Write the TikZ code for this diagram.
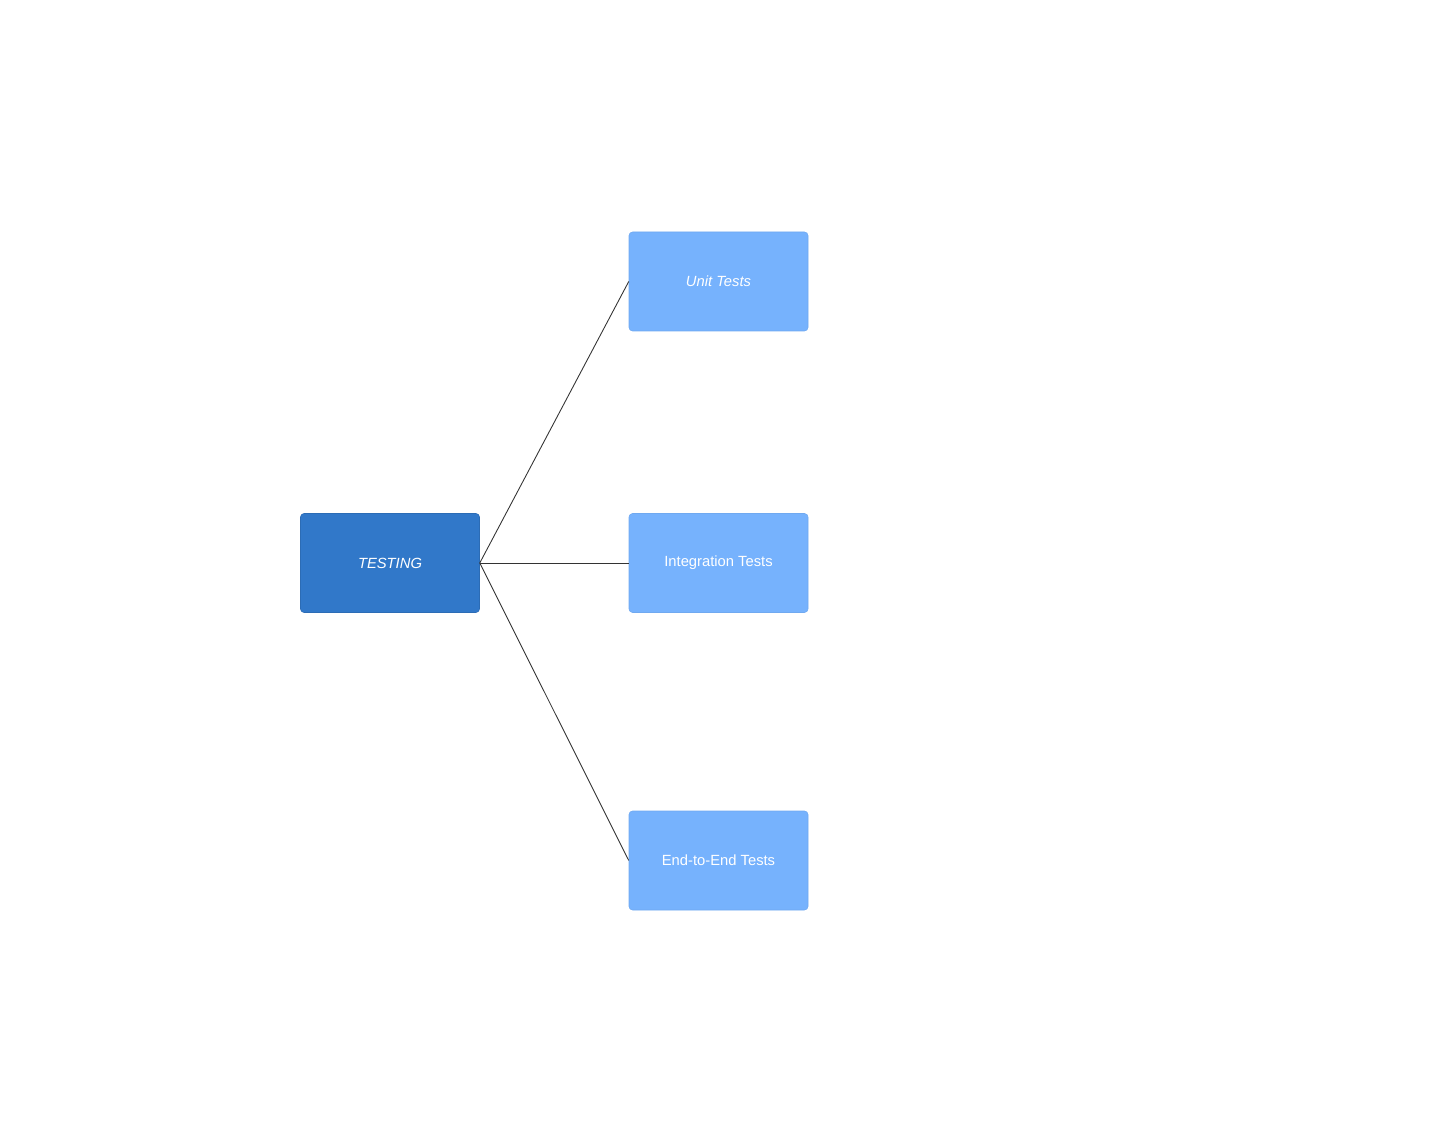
\documentclass[tikz,border=0pt]{standalone}
\usepackage{fontspec}
\setmainfont{Liberation Sans}
\definecolor{rootblue}{HTML}{3178C9}
\definecolor{leafblue}{HTML}{76B2FD}
\tikzset{
	box/.style={minimum width=3.58cm, minimum height=1.98cm, rounded corners=2pt, text=white, font=\fontsize{8.4}{10}\selectfont, inner sep=0pt},
	rootbox/.style={box, fill=rootblue, draw=rootblue!90!black, line width=0.3pt},
	leafbox/.style={box, fill=leafblue, draw=leafblue!95!black, line width=0.3pt},
	link/.style={draw=black!80, line width=0.5pt}
}
\begin{document}
			\begin{tikzpicture}
				\useasboundingbox (0,0) rectangle (29.12,-22.5);
				\coordinate (R) at (7.8,-11.26);
				\coordinate (U) at (14.37,-5.63);
				\coordinate (G) at (14.37,-11.26);
				\coordinate (E) at (14.37,-17.21);
				\node[rootbox] (testing) at (R) {\raisebox{-0.6pt}{\itshape TESTING}};
				\node[leafbox] (unit) at (U) {\raisebox{-0.6pt}{\itshape Unit Tests}};
				\node[leafbox] (integration) at (G) {\raisebox{-0.6pt}{Integration Tests}};
				\node[leafbox] (endtoend) at (E) {\raisebox{-0.6pt}{End-to-End Tests}};
				\draw[link] (testing.east) -- (unit.west);
				\draw[link] (testing.east) -- (integration.west);
				\draw[link] (testing.east) -- (endtoend.west);
			\end{tikzpicture}
\end{document}
